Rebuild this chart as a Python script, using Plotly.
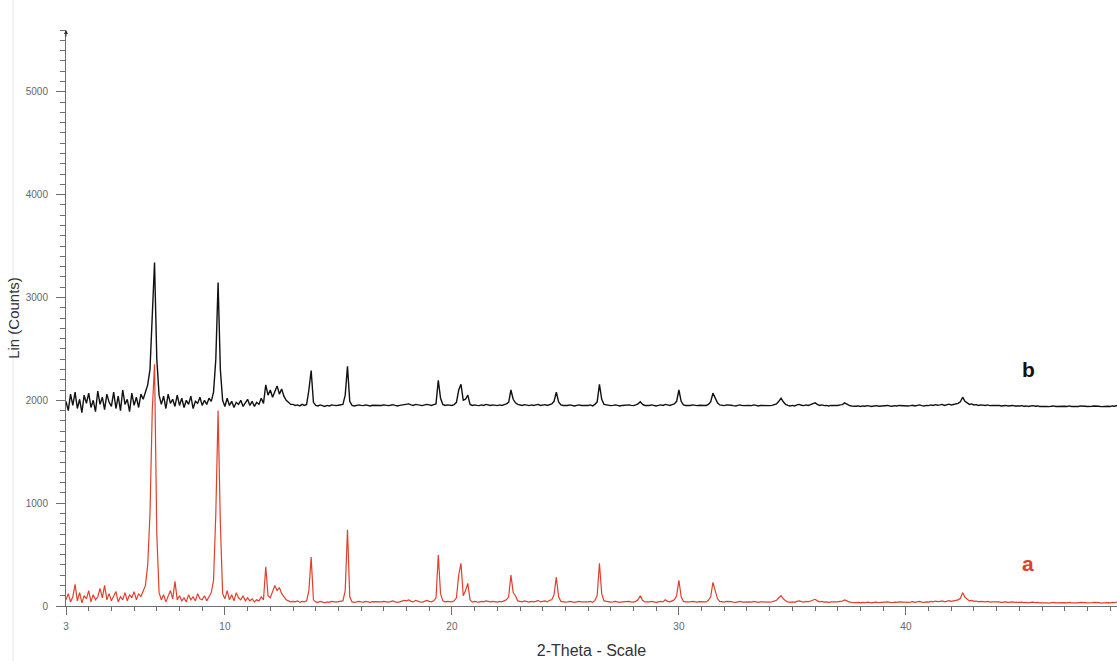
import numpy as np
import plotly.graph_objects as go

# 2-theta sampling grid: start 3.0 deg, step 0.1 deg
TWO_THETA_START = 3.0
TWO_THETA_STEP = 0.1

# Pattern b (black), counts, one row per degree (3.0-3.9, 4.0-4.9, ...)
counts_b = [
    1990, 1900, 2060, 1950, 2080, 1920, 2010, 1880, 2050, 1970,
    2070, 1930, 2000, 1890, 2090, 1960, 2030, 1910, 2060, 1980,
    1940, 2080, 1920, 2040, 1900, 2100, 1960, 2010, 1890, 2070,
    1950, 2030, 1930, 2060, 2010, 2080, 2150, 2300, 2750, 3340,
    2400, 2050, 1960, 2040, 1920, 2060, 1970, 2010, 1940, 2050,
    1950, 2020, 1930, 2000, 1960, 2040, 1920, 1990, 1970, 2030,
    1950, 2000, 1960, 2020, 1990, 2080, 2400, 3145, 2300, 2000,
    1940, 2020, 1950, 1990, 1930, 1980, 1960, 2000, 1940, 1970,
    2010, 1950, 1990, 1940, 1980, 1960, 2020, 1970, 2150, 2050,
    2100, 2030, 2090, 2140, 2060, 2110, 2040, 2000, 1980, 1960,
    1960, 1950, 1955, 1945, 1960, 1950, 1960, 2100, 2290, 1980,
    1950, 1945, 1955, 1950, 1940, 1950, 1945, 1955, 1950, 1948,
    1952, 1955, 1960, 2050, 2330, 1990, 1950, 1945, 1950, 1955,
    1950, 1948, 1955, 1950, 1945, 1952, 1950, 1955, 1948, 1950,
    1955, 1950, 1948, 1952, 1958, 1950, 1945, 1950, 1955, 1960,
    1958, 1965, 1955, 1950, 1960, 1955, 1950, 1948, 1955, 1960,
    1955, 1950, 1958, 1965, 2195, 2020, 1960, 1950, 1955, 1952,
    1950, 1958, 1980, 2100, 2155, 2000, 2010, 2050, 1960, 1950,
    1955, 1950, 1948, 1955, 1950, 1960, 1952, 1950, 1955, 1950,
    1948, 1955, 1950, 1958, 1965, 1980, 2100, 2010, 1975, 1960,
    1955, 1950, 1958, 1952, 1948, 1955, 1950, 1955, 1960, 1950,
    1955, 1958, 1950, 1960, 1965, 1990, 2080, 1985, 1955, 1950,
    1948, 1950, 1955, 1950, 1945, 1950, 1955, 1950, 1948, 1952,
    1950, 1955, 1945, 1960, 1985, 2155, 2010, 1960, 1955, 1950,
    1948, 1950, 1955, 1950, 1945, 1950, 1952, 1950, 1955, 1950,
    1948, 1955, 1965, 1985, 1960, 1950, 1948, 1950, 1955, 1950,
    1945, 1950, 1955, 1950, 1960, 1955, 1950, 1958, 1965, 1990,
    2100, 1990, 1955, 1950, 1948, 1950, 1955, 1950, 1948, 1952,
    1950, 1955, 1950, 1960, 1985, 2070, 2030, 1975, 1955, 1950,
    1948, 1955, 1950, 1952, 1948, 1945, 1950, 1955, 1948, 1950,
    1945, 1950, 1948, 1955, 1950, 1945, 1950, 1948, 1945, 1950,
    1948, 1950, 1955, 1965, 1990, 2020, 1985, 1960, 1950, 1945,
    1950, 1945, 1955, 1960, 1952, 1948, 1955, 1950, 1958, 1965,
    1975, 1960, 1950, 1955, 1948, 1950, 1945, 1950, 1948, 1952,
    1950, 1955, 1958, 1975, 1958, 1950, 1945, 1940, 1942, 1945,
    1940, 1945, 1942, 1948, 1945, 1940, 1945, 1948, 1942, 1945,
    1948, 1945, 1950, 1945, 1942, 1948, 1945, 1950, 1948, 1945,
    1950, 1945, 1948, 1952, 1945, 1950, 1955, 1948, 1945, 1950,
    1948, 1955, 1950, 1958, 1952, 1955, 1960, 1950, 1955, 1962,
    1955, 1958, 1962, 1970, 1985, 2030, 1990, 1975, 1960, 1965,
    1955, 1958, 1950, 1955, 1952, 1950, 1955, 1948, 1950, 1952,
    1948, 1950, 1945, 1948, 1950, 1945, 1948, 1950, 1945, 1942,
    1945, 1948, 1942, 1945, 1940, 1945, 1948, 1942, 1945, 1940,
    1942, 1945, 1940, 1938, 1942, 1945, 1940, 1942, 1938, 1940,
    1942, 1940, 1945, 1940, 1938, 1942, 1940, 1945, 1940, 1942,
    1940, 1938, 1942, 1945, 1940, 1942, 1938, 1940, 1945, 1942,
    1940, 1945, 1942, 1950,
]

# Pattern a (red), counts, same grid
counts_a = [
    60, 120, 40, 90, 210, 50, 130, 30, 100, 70,
    150, 40, 110, 60, 90, 170, 80, 200, 60, 120,
    50, 100, 140, 40, 90, 60, 130, 50, 110, 80,
    140, 60, 120, 90, 150, 200, 400, 900, 1900, 2350,
    700, 130, 60, 110, 40, 90, 150, 70, 240, 60,
    100, 50, 80, 40, 110, 60, 90, 50, 120, 70,
    60, 100, 50, 90, 130, 250, 900, 1900, 800, 120,
    70, 150, 60, 110, 50, 130, 80, 60, 100, 50,
    80, 50, 70, 40, 60, 50, 90, 60, 380, 100,
    80, 140, 200, 150, 180, 120, 90, 60, 50, 40,
    45, 40, 50, 35, 45, 40, 50, 150, 475, 60,
    40, 35, 45, 40, 30, 40, 35, 45, 40, 38,
    42, 45, 50, 150, 740, 90, 40, 35, 40, 45,
    40, 38, 45, 40, 35, 42, 40, 45, 38, 40,
    45, 40, 38, 42, 50, 40, 35, 40, 45, 55,
    50, 60, 45, 40, 55, 45, 40, 38, 45, 55,
    45, 40, 50, 80, 495, 120, 50, 40, 45, 42,
    40, 50, 80, 300, 415, 100, 150, 220, 60, 38,
    45, 40, 38, 45, 40, 50, 42, 40, 45, 40,
    38, 45, 40, 50, 60, 90, 300, 130, 100, 50,
    45, 40, 50, 42, 38, 45, 40, 45, 55, 40,
    45, 50, 40, 55, 60, 110, 280, 90, 45, 40,
    38, 40, 45, 40, 35, 40, 45, 40, 38, 42,
    40, 45, 35, 55, 100, 415, 120, 50, 45, 40,
    38, 40, 45, 40, 35, 40, 42, 40, 45, 40,
    38, 45, 60, 100, 55, 40, 38, 40, 45, 40,
    35, 40, 45, 40, 60, 45, 40, 50, 60, 100,
    250, 90, 45, 40, 38, 40, 45, 40, 38, 42,
    40, 45, 40, 55, 90, 230, 140, 70, 45, 40,
    38, 45, 40, 42, 38, 35, 40, 45, 38, 40,
    35, 40, 38, 45, 40, 35, 40, 38, 35, 40,
    38, 40, 45, 55, 80, 100, 70, 50, 40, 35,
    40, 35, 45, 50, 42, 38, 45, 40, 48, 55,
    65, 50, 40, 45, 38, 40, 35, 40, 38, 42,
    40, 45, 48, 60, 48, 40, 35, 30, 32, 35,
    30, 35, 32, 38, 35, 30, 35, 38, 32, 35,
    38, 35, 40, 35, 32, 38, 35, 40, 38, 35,
    40, 35, 38, 42, 35, 40, 45, 38, 35, 40,
    38, 45, 40, 48, 42, 45, 50, 40, 45, 52,
    45, 48, 52, 60, 75, 130, 85, 65, 50, 55,
    45, 48, 40, 45, 42, 40, 45, 38, 40, 42,
    38, 40, 35, 38, 40, 35, 38, 40, 35, 32,
    35, 38, 32, 35, 30, 35, 38, 32, 35, 30,
    32, 35, 30, 28, 32, 35, 30, 32, 28, 30,
    32, 30, 35, 30, 28, 32, 30, 35, 30, 32,
    30, 28, 32, 35, 30, 32, 28, 30, 35, 32,
    30, 35, 32, 40,
]

x_tickvals = [3, 10, 20, 30, 40]
x_ticktext = ["3", "10", "20", "30", "40"]
y_tickvals = [0, 1000, 2000, 3000, 4000, 5000]
y_ticktext = ["0", "1000", "2000", "3000", "4000", "5000"]
series_labels = ["a", "b"]

two_theta = np.round(TWO_THETA_START + TWO_THETA_STEP * np.arange(len(counts_b)), 2)

RED = "#e0402a"
FONT = "Liberation Sans, Arial, sans-serif"
AXIS = "#6e6e6e"

fig = go.Figure()
fig.add_trace(go.Scatter(x=two_theta, y=counts_a, mode="lines",
                         line=dict(color=RED, width=1.2), name="a",
                         hoverinfo="skip"))
fig.add_trace(go.Scatter(x=two_theta, y=counts_b, mode="lines",
                         line=dict(color="#111111", width=1.4), name="b",
                         hoverinfo="skip"))

fig.update_layout(
    width=1117, height=661,
    margin=dict(l=66, r=0, t=30, b=55),
    paper_bgcolor="white", plot_bgcolor="white",
    showlegend=False,
    font=dict(family=FONT, color="#333"),
)

fig.update_xaxes(
    range=[3, 49.3], showgrid=False, zeroline=False,
    showline=True, linecolor=AXIS, linewidth=1,
    tickmode="array", tickvals=x_tickvals, ticktext=x_ticktext,
    ticks="outside", ticklen=8, tickcolor=AXIS, tickwidth=1,
    tickfont=dict(size=10, color="#666"), ticklabelstandoff=3,
    minor=dict(dtick=1, tick0=3, ticks="outside", ticklen=4, tickcolor=AXIS, showgrid=False),
    title=dict(text="2-Theta - Scale", font=dict(size=16, color="#333"), standoff=13),
)
fig.update_yaxes(
    range=[0, 5600], showgrid=False, zeroline=False,
    showline=True, linecolor=AXIS, linewidth=1,
    tickmode="array", tickvals=y_tickvals, ticktext=y_ticktext,
    ticks="outside", ticklen=9, tickcolor=AXIS, tickwidth=1,
    tickfont=dict(size=10, color="#666"), ticklabelstandoff=6,
    minor=dict(dtick=100, tick0=0, ticks="outside", ticklen=5, tickcolor=AXIS, showgrid=False),
    title=dict(text="Lin (Counts)", font=dict(size=15, color="#333"), standoff=2),
)

# series labels
fig.add_annotation(x=45.4, y=2300, text="<b>" + series_labels[1] + "</b>", showarrow=False,
                   font=dict(size=21, color="#111", family=FONT))
fig.add_annotation(x=45.4, y=417, text="<b>" + series_labels[0] + "</b>", showarrow=False,
                   font=dict(size=21, color=RED, family=FONT))

# arrow tip on top of y axis
fig.add_annotation(x=3, y=5600, ax=0, ay=8, showarrow=True, arrowhead=2,
                   arrowsize=0.8, arrowwidth=1, arrowcolor="#333", text="")

# faint frame line at left edge of the figure
fig.add_shape(type="line", xref="paper", yref="paper",
              x0=-0.0504, x1=-0.0504, y0=-0.1, y1=1.06,
              line=dict(color="#e6e6e6", width=1))

fig.write_html("out.html")
